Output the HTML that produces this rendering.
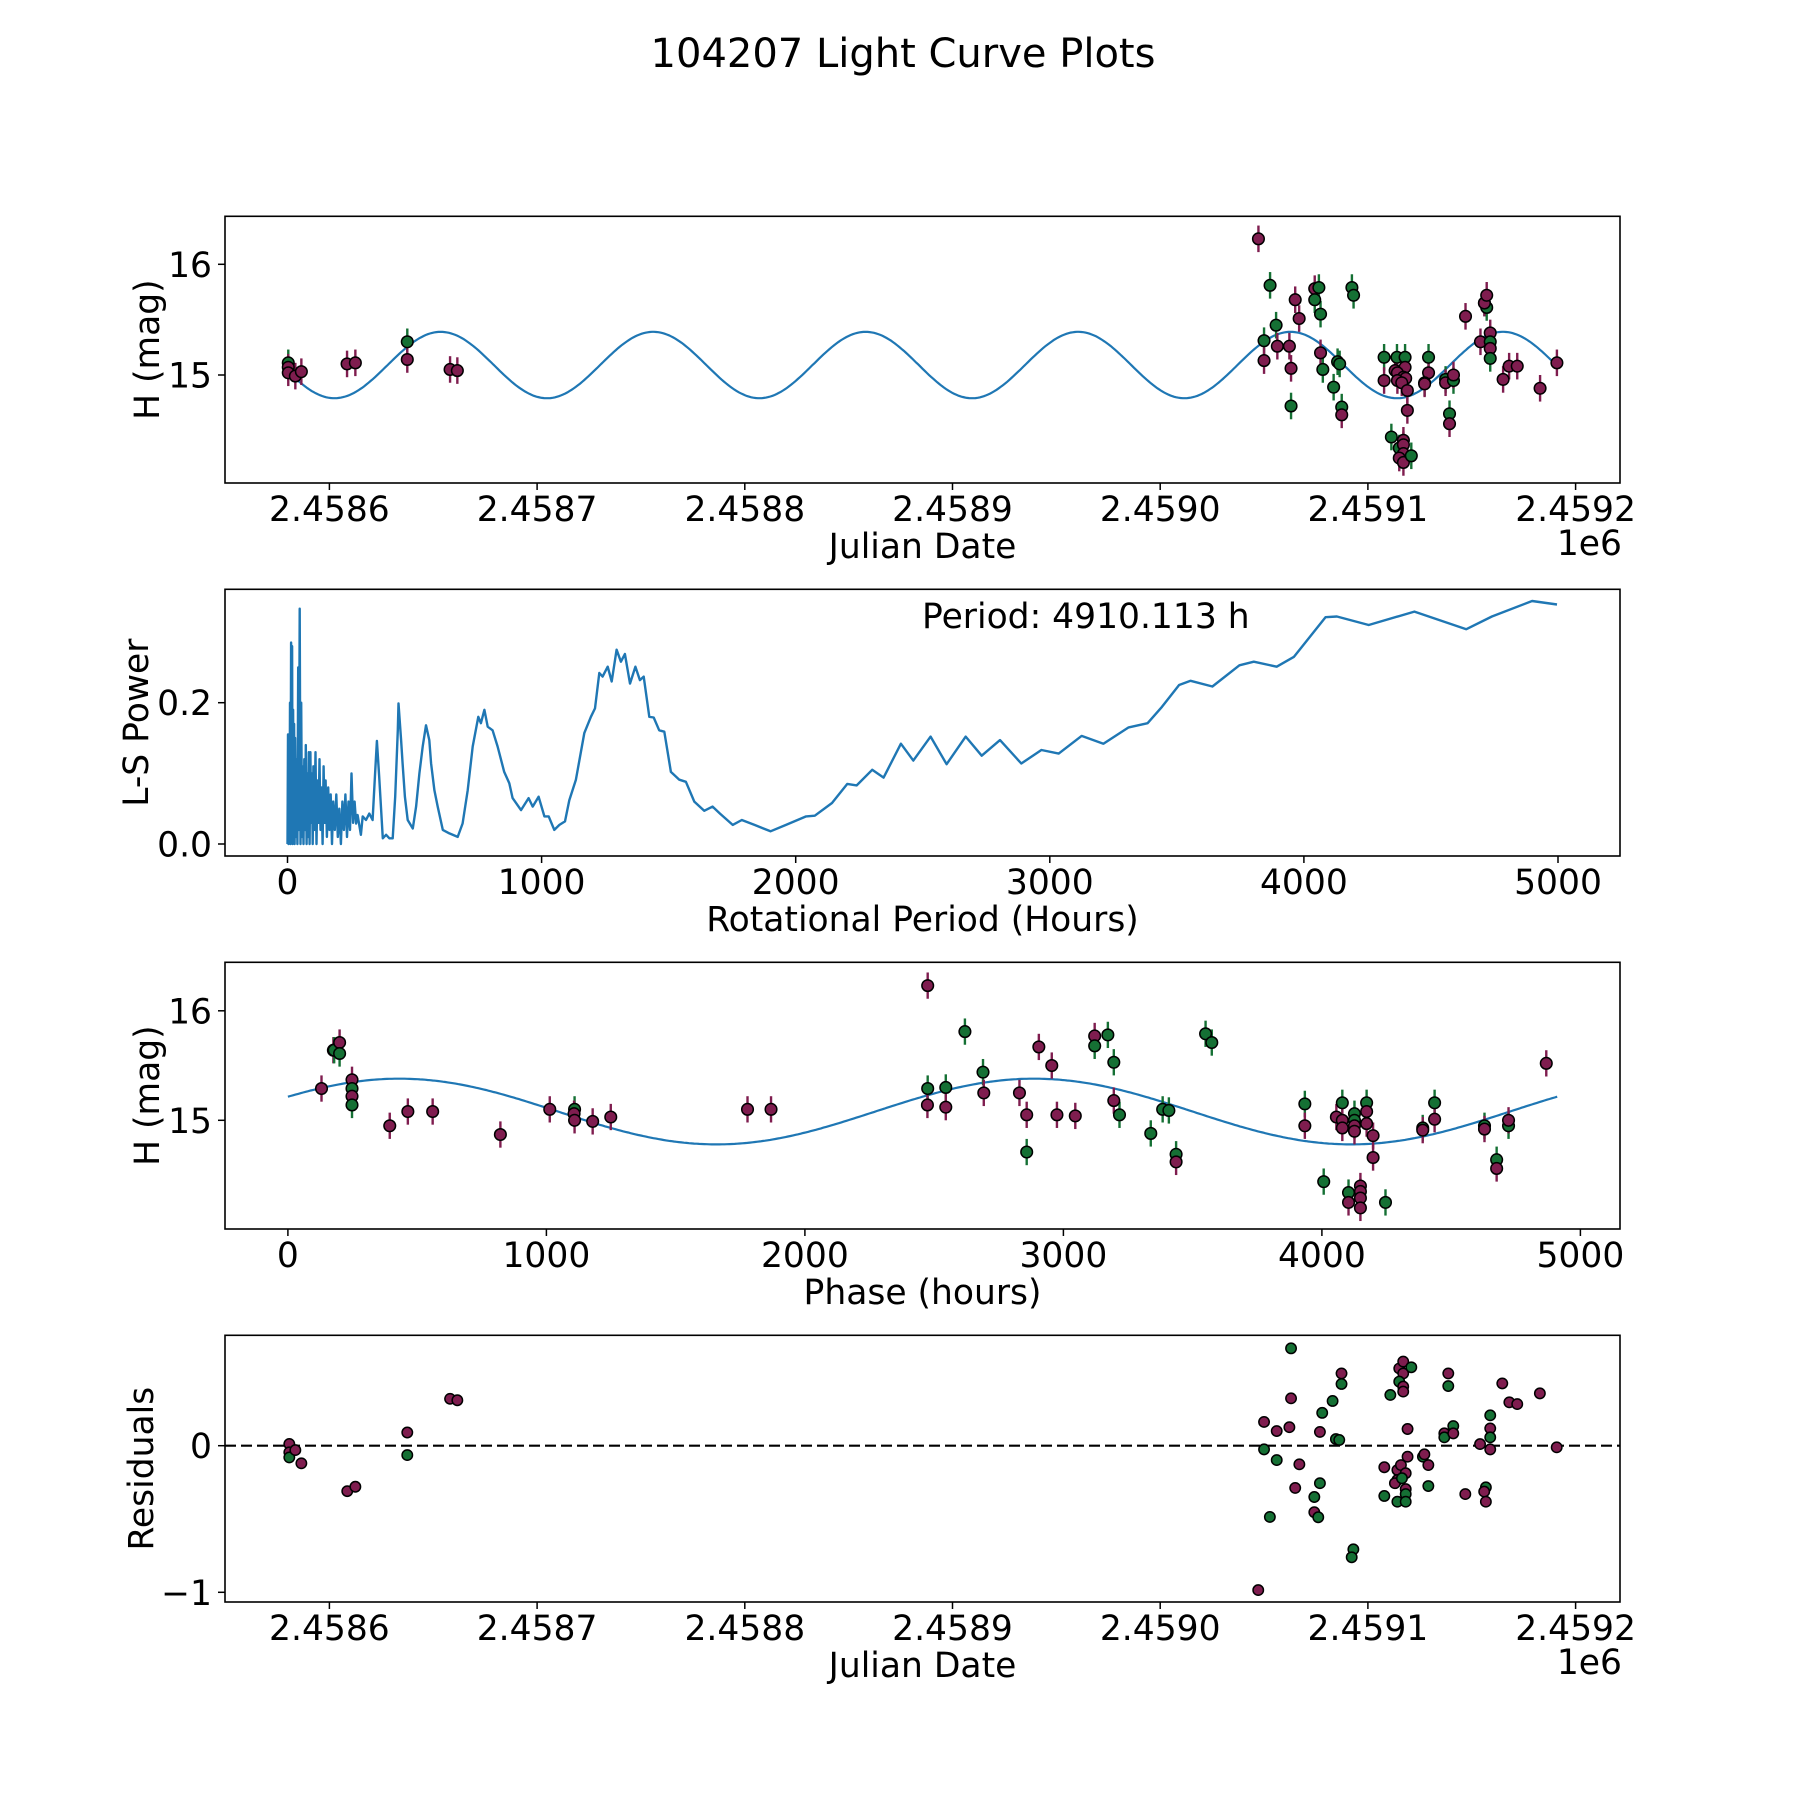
<!DOCTYPE html>
<html><head><meta charset="utf-8">
<style>
html,body{margin:0;padding:0;background:#fff;}
svg{display:block;font-family:"DejaVu Sans","Liberation Sans",sans-serif;}
</style></head>
<body>
<svg id="fig" width="1800" height="1800" viewBox="0 0 1800 1800" xmlns="http://www.w3.org/2000/svg">
<rect width="1800" height="1800" fill="#fff"/>
<text x="903" y="67" text-anchor="middle" font-size="40">104207 Light Curve Plots</text>
<g id="p1"></g>
<g id="p2"></g>
<g id="p3"></g>
<g id="p4"></g>
</svg>
<script>
// ---------- DATA ----------
const PERIOD_H = 4910.113;
const jdTickLabels = ["2.4586","2.4587","2.4588","2.4589","2.4590","2.4591","2.4592"];
const jdTickDays = [0,100,200,300,400,500,600];
const magTicks = [15,16];
const hourTicks = [0,1000,2000,3000,4000,5000];
const powerTicks = [0.0,0.2];
const powerTickLabels = ["0.0","0.2"];
const residTicks = [-1,0];
const residTickLabels = ["\u22121","0"];

// light curve: days since JD 2458600, magnitude, filter
const lcDays = [-19.8,-19.8,-19.8,-16.4,-13.5,8.5,12.5,37.5,37.5,58.1,61.6,
447.3,452.9,450.0,450.0,455.8,456.4,462.2,463.0,463.0,465.0,466.9,474.4,476.4,474.4,477.2,477.2,478.3,483.5,485.4,486.4,487.4,487.4,492.3,493.1,
507.8,507.8,514.0,517.9,517.9,513.1,514.2,517.1,518.2,514.2,516.3,519.0,519.0,529.2,529.2,527.3,527.3,537.4,537.4,541.2,541.2,539.3,539.3,
511.3,515.1,517.1,517.1,517.1,515.1,517.1,520.9,547.0,554.2,556.1,557.2,556.1,557.2,558.9,558.9,558.9,558.9,565.1,568.0,571.9,582.9,591.0];
const lcMag = [15.11,15.07,15.02,14.99,15.03,15.10,15.11,15.30,15.14,15.05,15.04,
16.23,15.81,15.31,15.13,15.45,15.26,15.26,15.06,14.72,15.68,15.51,15.78,15.79,15.68,15.55,15.20,15.05,14.89,15.12,15.10,14.71,14.64,15.79,15.72,
15.16,14.95,15.16,15.16,15.07,15.04,15.02,14.98,14.97,14.95,14.93,14.86,14.68,15.16,15.02,14.93,14.92,14.96,14.93,14.95,15.00,14.65,14.56,
14.44,14.34,14.41,14.37,14.29,14.25,14.21,14.27,15.53,15.30,15.65,15.61,15.65,15.72,15.38,15.30,15.24,15.15,14.96,15.08,15.08,14.88,15.11];
const lcFilter = ["g","m","m","m","m","m","m","g","m","m","m",
"m","g","g","m","g","m","m","m","g","m","m","m","g","g","g","m","g","g","g","g","g","m","g","g",
"g","m","g","g","m","m","m","m","m","m","m","m","m","g","m","g","m","g","m","g","m","g","m",
"g","g","m","m","m","m","m","g","m","m","g","g","m","m","m","g","m","g","m","m","m","m","m"];
const lcErr = 0.12;
// sine model parameters
const modelMean = 15.09, modelAmp = 0.30, modelPeakDay = 53.6;

// periodogram
const lsHours = [0,2,4,6,8,10,12,14,16,18,20,22,24,26,28,30,33,36,39,42,45,48,51,54,57,60,63,66,69,72,75,78,81,84,87,90,93,96,99,102,106,110,114,118,122,126,130,134,138,142,146,150,155,160,165,170,175,180,186,192,198,204,210,216,222,228,234,240,246,252,258,264,270,276,289,296,309,322,335,344,352,361,375,388,401,414,424,434,437,447,453,462,473,493,506,519,532,545,558,565,578,591,611,637,670,689,709,729,751,761,775,788,807,827,853,873,886,919,949,965,988,1011,1028,1050,1070,1092,1109,1135,1168,1194,1210,1227,1240,1260,1276,1295,1312,1328,1348,1369,1387,1402,1424,1441,1463,1483,1509,1542,1568,1601,1640,1673,1702,1752,1788,1838,1901,1962,2041,2075,2143,2203,2240,2301,2346,2414,2463,2531,2594,2669,2732,2804,2888,2967,3035,3125,3211,3310,3385,3441,3509,3554,3640,3746,3803,3893,3961,4085,4130,4255,4435,4639,4740,4898,4996];
const lsPower = [0.00,0.155,0.0,0.155,0.01,0.20,0.0,0.285,0.02,0.28,0.0,0.19,0.03,0.17,0.0,0.15,0.01,0.12,0.0,0.25,0.02,0.333,0.0,0.20,0.01,0.11,0.0,0.12,0.02,0.14,0.0,0.10,0.01,0.13,0.0,0.13,0.03,0.10,0.0,0.11,0.02,0.13,0.0,0.09,0.03,0.12,0.02,0.08,0.0,0.11,0.03,0.09,0.01,0.08,0.02,0.07,0.0,0.06,0.02,0.07,0.01,0.05,0.0,0.06,0.02,0.07,0.01,0.06,0.02,0.10,0.03,0.06,0.029,0.041,0.013,0.039,0.034,0.043,0.034,0.095,0.146,0.095,0.008,0.013,0.008,0.008,0.067,0.161,0.199,0.147,0.114,0.067,0.034,0.022,0.053,0.100,0.138,0.168,0.147,0.114,0.076,0.053,0.020,0.015,0.010,0.029,0.076,0.138,0.180,0.171,0.190,0.166,0.161,0.138,0.102,0.086,0.065,0.048,0.065,0.053,0.067,0.039,0.039,0.020,0.027,0.032,0.062,0.091,0.157,0.180,0.192,0.242,0.237,0.251,0.230,0.275,0.258,0.269,0.227,0.251,0.232,0.237,0.180,0.179,0.161,0.159,0.102,0.091,0.088,0.060,0.047,0.053,0.043,0.027,0.034,0.027,0.018,0.027,0.039,0.040,0.058,0.085,0.083,0.105,0.094,0.142,0.118,0.152,0.113,0.152,0.125,0.147,0.114,0.133,0.128,0.153,0.142,0.165,0.171,0.194,0.225,0.231,0.223,0.253,0.258,0.251,0.265,0.321,0.322,0.310,0.329,0.304,0.322,0.344,0.339];

// phase-folded
const phHours = [130,176,179,200,200,248,248,248,248,394,464,560,822,1013,1109,1107,1109,1179,1249,1778,1869,2475,2475,2474,
2545,2545,2619,2689,2692,2830,2858,2858,2905,2955,2975,3046,3121,3121,3172,3195,3195,3217,3338,3384,3408,3436,3436,3550,3574,
3934,3934,4007,4056,4079,4079,4079,4126,4126,4126,4126,4173,4173,4173,4198,4198,4103,4103,4149,4149,4149,4149,4246,4390,4390,4436,4436,4629,4629,4676,4676,4722,4722,4868];
const phMag = [15.29,15.64,15.64,15.71,15.61,15.37,15.29,15.22,15.14,14.95,15.08,15.08,14.87,15.10,15.10,15.06,15.00,14.99,15.03,15.10,15.10,16.23,15.29,15.14,
15.30,15.12,15.81,15.44,15.25,15.25,15.05,14.71,15.67,15.50,15.05,15.04,15.77,15.68,15.78,15.53,15.18,15.05,14.88,15.10,15.09,14.69,14.62,15.79,15.71,
15.15,14.95,14.44,15.03,15.16,15.00,14.93,15.06,15.00,14.95,14.90,15.16,15.08,14.97,14.86,14.66,14.34,14.25,14.40,14.35,14.29,14.20,14.25,14.93,14.91,15.16,15.01,14.95,14.92,14.64,14.56,14.95,15.00,15.52];
const phFilter = ["m","m","g","m","g","m","g","m","g","m","m","m","m","m","g","m","m","m","m","m","m","m","g","m",
"g","m","g","g","m","m","m","g","m","m","m","m","m","g","g","g","m","g","g","g","g","g","m","g","g",
"g","m","g","m","g","m","m","g","g","m","m","g","m","m","m","m","g","m","m","m","m","m","g","g","m","g","m","g","m","g","m","g","m","m"];
const phMean = 15.08, phAmp = 0.30, phPeakHour = 431;

// residuals
const resDays = [-19.3,-19.3,-19.3,-16.4,-13.5,8.6,12.5,37.5,37.5,58.1,61.6,
447.2,450.0,450.0,452.8,456.1,456.1,462.2,463.0,463.0,465.0,467.0,474.2,474.2,476.1,476.9,476.9,478.0,483.0,484.6,486.2,487.3,487.3,493.0,492.2,
507.9,507.9,510.8,514.2,514.2,514.2,513.0,515.9,518.2,516.4,518.2,518.2,518.2,519.1,519.1,515.1,517.0,517.0,515.1,517.0,517.0,520.9,
526.5,527.2,529.1,529.1,536.8,536.8,541.1,541.1,538.7,538.7,546.9,554.0,556.8,556.0,556.8,558.9,558.9,558.9,558.9,564.7,568.1,571.9,582.8,590.9];
const resVal = [0.012,-0.045,-0.08,-0.03,-0.12,-0.31,-0.28,0.09,-0.064,0.32,0.31,
-0.985,0.162,-0.025,-0.486,0.100,-0.098,0.126,0.664,0.323,-0.288,-0.127,-0.350,-0.454,-0.488,0.094,-0.256,0.224,0.305,0.045,0.039,0.493,0.421,-0.707,-0.761,
-0.147,-0.343,0.346,-0.382,-0.166,-0.234,-0.256,-0.132,-0.188,-0.222,-0.296,-0.330,-0.382,-0.075,0.114,0.527,0.574,0.493,0.437,0.403,0.369,0.535,
-0.075,-0.059,-0.132,-0.275,0.084,0.057,0.134,0.084,0.493,0.407,-0.330,0.011,-0.284,-0.313,-0.382,0.207,0.118,0.057,-0.025,0.425,0.296,0.284,0.357,-0.011];
const resFilter = ["m","m","g","m","m","m","m","m","g","m","m",
"m","m","g","g","m","g","m","g","m","m","m","g","m","g","m","g","g","g","g","g","m","g","g","g",
"m","g","g","g","m","m","m","m","m","g","m","g","g","m","m","m","m","m","g","m","m","g",
"g","m","m","g","m","g","g","m","m","g","m","m","g","m","m","g","m","g","m","m","m","m","m","m"];

// ---------- RENDER ----------
const NS = "http://www.w3.org/2000/svg";
const COL = {m:"#7f1d4f", g:"#157034"};
const BLUE = "#1f77b4";
const FS = 34.5;
function mk(parent, tag, attrs){
  const e = document.createElementNS(NS, tag);
  for (const k in attrs) e.setAttribute(k, attrs[k]);
  parent.appendChild(e);
  return e;
}
const L = 225, R = 1620;
const tops = [216.3, 589.3, 962.3, 1335.3], H = 266.7;

// axis functions
const xJD = d => 329.4 + d*2.077;
const yMag1 = m => 375.0 - (m-15)*110.7;
const xP = h => 287.5 + h*0.2541;
const yP = p => 844 - p*706.5;
const xPh = h => 287.9 + h*0.2585;
const yMag3 = m => 1120.3 - (m-15)*109.5;
const yR = r => 1445.7 - r*146.6;

function frame(g, top, name){
  const r = mk(g, "rect", {x:L, y:top, width:R-L, height:H, fill:"none", stroke:"#000", "stroke-width":1.6});
  
  
}
function xTicks(g, top, vals, labels, fx, nm){
  const b = top+H;
  vals.forEach((v,i)=>{
    const x = fx(v);
    const t = mk(g,"line",{x1:x,x2:x,y1:b,y2:b+7,stroke:"#000","stroke-width":1.5});
    
    
    const tx = mk(g,"text",{x:x,y:b+38,"text-anchor":"middle","font-size":FS});
    tx.textContent = labels[i];
    
    
  });
}
function yTicks(g, vals, labels, fy, nm){
  vals.forEach((v,i)=>{
    const y = fy(v);
    const t = mk(g,"line",{x1:L-7,x2:L,y1:y,y2:y,stroke:"#000","stroke-width":1.5});
    
    
    const tx = mk(g,"text",{x:212,y:y+12.5,"text-anchor":"end","font-size":FS});
    tx.textContent = labels[i];
    
    
  });
}
function xLabel(g, top, txt, nm){
  const t = mk(g,"text",{x:(L+R)/2,y:top+H+75,"text-anchor":"middle","font-size":FS});
  t.textContent = txt;
  
  
}
function yLabel(g, top, cx, txt, nm){
  const cy = top+H/2;
  const t = mk(g,"text",{x:cx,y:cy,"text-anchor":"middle","dominant-baseline":"central","font-size":FS,transform:`rotate(-90 ${cx} ${cy})`});
  t.textContent = txt;
  
  
}
function offsetLabel(g, top, nm){
  const t = mk(g,"text",{x:R+2,y:top+H+72,"text-anchor":"end","font-size":FS});
  t.textContent = "1e6";
  
  
}
function pointsWithErr(g, xs, ys, fs, fx, fy, err, nm){
  xs.forEach((x,i)=>{
    const px = fx(x), c = COL[fs[i]];
    if (err){
      const e = mk(g,"line",{x1:px,x2:px,y1:fy(ys[i]+err),y2:fy(ys[i]-err),stroke:c,"stroke-width":2.4});
      
      
    }
  });
  xs.forEach((x,i)=>{
    const c = COL[fs[i]];
    const p = mk(g,"circle",{cx:fx(x),cy:fy(ys[i]),r:err?5.8:5.2,fill:c,stroke:"#000","stroke-width":1.5});
    
    
  });
}

// Panel 1
(function(){
  const g = document.getElementById("p1"), top = tops[0];
  let d = "";
  const d0 = lcDays[0], d1 = lcDays[lcDays.length-1];
  for (let i=0;i<=600;i++){
    const t = d0 + (d1-d0)*i/600;
    const m = modelMean + modelAmp*Math.cos(2*Math.PI*(t-modelPeakDay)/(PERIOD_H/48));
    d += (i?"L":"M")+xJD(t).toFixed(1)+","+yMag1(m).toFixed(1);
  }
  const ln = mk(g,"path",{d:d,fill:"none",stroke:BLUE,"stroke-width":2.2});
  
  
  pointsWithErr(g, lcDays, lcMag, lcFilter, xJD, yMag1, lcErr, "observation");
  frame(g, top, "light-curve-axes");
  xTicks(g, top, jdTickDays, jdTickLabels, xJD, "x");
  yTicks(g, magTicks, magTicks.map(String), yMag1, "y");
  xLabel(g, top, "Julian Date", "x-axis-title");
  offsetLabel(g, top, "x-offset-label");
  yLabel(g, top, 148, "H (mag)", "y-axis-title");
})();

// Panel 2
(function(){
  const g = document.getElementById("p2"), top = tops[1];
  let d = "";
  lsHours.forEach((h,i)=>{ d += (i?"L":"M")+xP(h).toFixed(1)+","+yP(lsPower[i]).toFixed(1); });
  const ln = mk(g,"path",{d:d,fill:"none",stroke:BLUE,"stroke-width":2.4,"stroke-linejoin":"round"});
  
  
  frame(g, top, "periodogram-axes");
  xTicks(g, top, hourTicks, hourTicks.map(String), xP, "x");
  yTicks(g, powerTicks, powerTickLabels, yP, "y");
  xLabel(g, top, "Rotational Period (Hours)", "x-axis-title");
  yLabel(g, top, 137, "L-S Power", "y-axis-title");
  const t = mk(g,"text",{x:922,y:628,"font-size":FS});
  t.textContent = "Period: 4910.113 h";
  
  
})();

// Panel 3
(function(){
  const g = document.getElementById("p3"), top = tops[2];
  let d = "";
  for (let i=0;i<=500;i++){
    const h = PERIOD_H*i/500;
    const m = phMean + phAmp*Math.cos(2*Math.PI*(h-phPeakHour)/(PERIOD_H/2));
    d += (i?"L":"M")+xPh(h).toFixed(1)+","+yMag3(m).toFixed(1);
  }
  const ln = mk(g,"path",{d:d,fill:"none",stroke:BLUE,"stroke-width":2.2});
  
  
  pointsWithErr(g, phHours, phMag, phFilter, xPh, yMag3, lcErr, "phased-observation");
  frame(g, top, "phase-axes");
  xTicks(g, top, hourTicks, hourTicks.map(String), xPh, "x");
  yTicks(g, magTicks, magTicks.map(String), yMag3, "y");
  xLabel(g, top, "Phase (hours)", "x-axis-title");
  yLabel(g, top, 148, "H (mag)", "y-axis-title");
})();

// Panel 4
(function(){
  const g = document.getElementById("p4"), top = tops[3];
  const z = mk(g,"line",{x1:L,x2:R,y1:yR(0),y2:yR(0),stroke:"#000","stroke-width":2.2,"stroke-dasharray":"11,5"});
  
  
  pointsWithErr(g, resDays, resVal, resFilter, xJD, yR, 0, "residual");
  frame(g, top, "residuals-axes");
  xTicks(g, top, jdTickDays, jdTickLabels, xJD, "x");
  yTicks(g, residTicks, residTickLabels, yR, "y");
  xLabel(g, top, "Julian Date", "x-axis-title");
  offsetLabel(g, top, "x-offset-label");
  yLabel(g, top, 142, "Residuals", "y-axis-title");
})();
</script>
</body></html>
